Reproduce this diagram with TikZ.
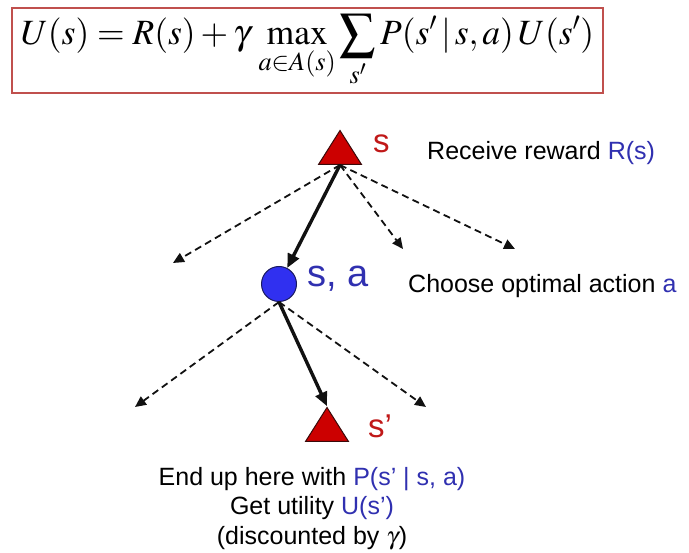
\documentclass[tikz,border=0pt]{standalone}
\usepackage{mathptmx}
\usepackage[no-math]{fontspec}
\setsansfont{Liberation Sans}
\usetikzlibrary{shapes.geometric,arrows.meta}
\definecolor{ink}     {HTML}{111111}
\definecolor{boxred}  {HTML}{C0504D}
\definecolor{trired}  {HTML}{CC0000}
\definecolor{triedge} {HTML}{3A0A0A}
\definecolor{labred}  {HTML}{C01818}
\definecolor{dotblue} {HTML}{3030F0}
\definecolor{dotedge} {HTML}{1A1A60}
\definecolor{textblue}{HTML}{3030B0}
\tikzset{
  >=stealth,
  every node/.style={font=\sffamily\fontsize{25}{30}\selectfont, inner sep=0pt},
  % --- nodes
  tri/.style  = {isosceles triangle, isosceles triangle stretches, shape border rotate=90,
                 minimum width=43pt, minimum height=34pt, inner sep=0pt,
                 fill=trired, draw=triedge, line width=1pt},
  dot/.style  = {circle, minimum size=35pt, fill=dotblue, draw=dotedge, line width=1pt},
  txt/.style  = {anchor=base west},
  big/.style  = {txt, font=\sffamily\fontsize{33}{36}\selectfont, text=labred},
  % --- edges
  e/.style    = {-{Triangle[length=14pt,width=12pt]}, line width=3.4pt, draw=ink},
  ed/.style   = {-{Triangle[length=11pt,width=10pt]}, line width=1.8pt, draw=ink,
                 dash pattern=on 7pt off 4.5pt},
}
\begin{document}
\begin{tikzpicture}[x=1pt,y=-1pt]
  \useasboundingbox (0,0) rectangle (689,553);
  \node[draw=boxred, line width=1.2pt, minimum width=591pt, minimum height=85pt] (eq) at (307.5,50.5)
    {\fontsize{35.5}{40}\selectfont\raisebox{-6pt}{$\displaystyle U(s) = R(s) + \gamma\,\max_{a\in A(s)} \sum_{s'} P(s'\,|\,s,a)\,U(s')$}};
  \node[tri, anchor=lower side] (s) at (340,165) {};
  \node[dot] (sa) at (279,284) {};
  \node[tri, anchor=lower side] (sp) at (327,442) {};
  \coordinate (a1) at (173,263); \coordinate (a2) at (403,249); \coordinate (a3) at (515,249);
  \coordinate (b1) at (135,407); \coordinate (b2) at (426,407);
  \draw[ed] (s.lower side)--(a1); \draw[ed] (s.lower side)--(a2); \draw[ed] (s.lower side)--(a3);
  \draw[e] (s.lower side)--(sa);
  \draw[ed] (sa.south)--(b1); \draw[ed] (sa.south)--(b2);
  \draw[e] (sa.south)--(sp.apex);
  \node[big] (ls) at (373,153) {s};
  \node[txt] (rew) at (427,160) {Receive reward \textcolor{textblue}{R(s)}};
  \node[big, font=\sffamily\fontsize{38}{40}\selectfont, text=textblue] (lsa) at (307,287) {s, a};
  \node[txt] (act) at (408,293) {Choose optimal action \textcolor{textblue}{a}};
  \node[big] (lsp) at (368,438) {s’};
  \node[anchor=base, align=center] (note) at (312,545)
    {End up here with \textcolor{textblue}{P(s’ | s, a)}\\Get utility \textcolor{textblue}{U(s’)}\\(discounted by $\gamma$)};
\end{tikzpicture}
\end{document}
